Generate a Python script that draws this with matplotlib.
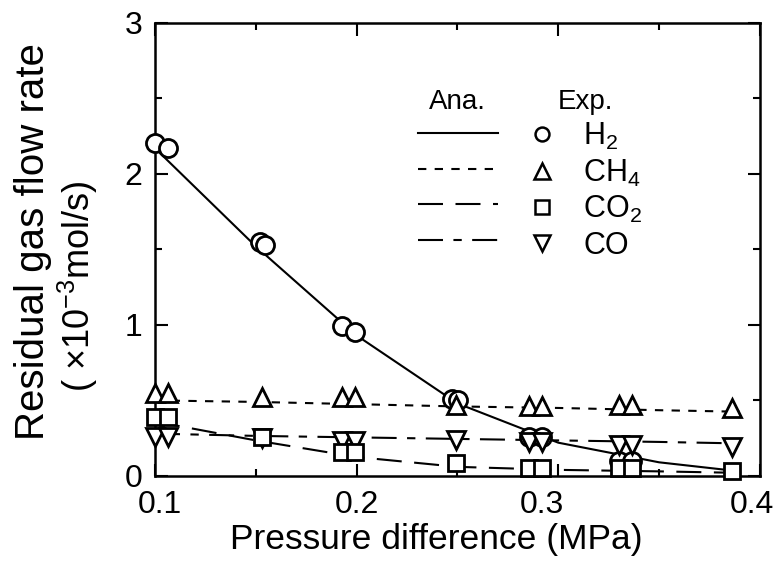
import matplotlib
matplotlib.use("Agg")
import matplotlib.pyplot as plt
from matplotlib.ticker import MultipleLocator
from matplotlib.lines import Line2D
from matplotlib.transforms import ScaledTranslation

plt.rcParams['font.family'] = ['Liberation Sans', 'DejaVu Sans']
plt.rcParams['mathtext.fontset'] = 'custom'
plt.rcParams['mathtext.rm'] = 'Liberation Sans'
plt.rcParams['mathtext.it'] = 'Liberation Sans:italic'
plt.rcParams['mathtext.bf'] = 'Liberation Sans:bold'

# ---- data ----
# analytical curves
ana_x = [0.1, 0.15, 0.2, 0.25, 0.3, 0.35, 0.39]
ana_h2 = [2.17, 1.52, 0.93, 0.48, 0.22, 0.09, 0.03]
ana_ch4 = [0.50, 0.49, 0.475, 0.46, 0.45, 0.435, 0.425]
ana_co2 = [0.36, 0.235, 0.125, 0.06, 0.04, 0.03, 0.02]
ana_co = [0.28, 0.265, 0.255, 0.245, 0.235, 0.225, 0.215]

# experiments
exp_x = [0.100, 0.1064, 0.153, 0.1926, 0.199, 0.2495, 0.2856, 0.292, 0.330, 0.3366, 0.386]
exp_ch4 = [0.55, 0.55, 0.52, 0.52, 0.52, 0.47, 0.46, 0.46, 0.47, 0.47, 0.45]
exp_co2 = [0.39, 0.39, 0.26, 0.16, 0.16, 0.085, 0.055, 0.055, 0.05, 0.05, 0.035]
exp_co = [0.26, 0.26, 0.25, 0.23, 0.23, 0.24, 0.225, 0.225, 0.205, 0.205, 0.19]
h2_x = [0.100, 0.1064, 0.152, 0.1545, 0.1926, 0.199, 0.2475, 0.2505, 0.2856, 0.292, 0.330, 0.3366]
exp_h2 = [2.205, 2.17, 1.55, 1.53, 0.99, 0.955, 0.51, 0.50, 0.26, 0.26, 0.10, 0.10]

x_ticks = [0.1, 0.2, 0.3, 0.4]
x_ticklabels = ['0.1', '0.2', '0.3', '0.4']
y_ticks = [0, 1, 2, 3]
y_ticklabels = ['0', '1', '2', '3']
gas_labels = ['H$_2$', 'CH$_4$', 'CO$_2$', 'CO']

fig = plt.figure(figsize=(7.77, 5.72), dpi=100)
ax = fig.add_axes([0.1995, 0.168, 0.7785, 0.792])

lw = 1.5
ls_h2 = '-'
ls_ch4 = (0, (4, 4))
ls_co2 = (0, (12, 6))
ls_co = (0, (12, 5, 4, 5))

ax.plot(ana_x, ana_ch4, color='k', lw=lw, ls=ls_ch4, zorder=2)
ax.plot(ana_x, ana_co2, color='k', lw=lw, ls=ls_co2, zorder=2)
ax.plot(ana_x, ana_co, color='k', lw=lw, ls=ls_co, zorder=2)
ax.plot(ana_x, ana_h2, color='k', lw=lw, ls=ls_h2, zorder=2)

mk = dict(color='none', mfc='white', mec='k', mew=2.0, zorder=3, clip_on=False)
ax.plot(h2_x, exp_h2, marker='o', ms=13, ls='none', **mk)
ax.plot(exp_x, exp_ch4, marker='^', ms=13, ls='none', **mk)
ax.plot(exp_x, exp_co, marker='v', ms=13, ls='none', **mk)
ax.plot(exp_x, exp_co2, marker='s', ms=12, ls='none', **mk)

ax.set_xlim(0.1, 0.4)
ax.set_ylim(0, 3)
ax.set_xticks(x_ticks)
ax.set_xticklabels(x_ticklabels)
ax.set_yticks(y_ticks)
ax.set_yticklabels(y_ticklabels)
ax.xaxis.set_minor_locator(MultipleLocator(0.05))
ax.yaxis.set_minor_locator(MultipleLocator(0.5))
ax.tick_params(which='both', direction='in', top=True, right=True, width=1.5, labelsize=23)
ax.tick_params(which='major', length=9)
ax.tick_params(axis='x', which='major', pad=10)
ax.tick_params(axis='y', which='major', pad=9)
ax.tick_params(which='minor', length=5)
for s in ax.spines.values():
    s.set_linewidth(1.8)

# nudge x tick labels like the reference
shifts = [5, 0, -16, -8]
for lab, dx in zip(ax.get_xticklabels(), shifts):
    lab.set_transform(lab.get_transform() + ScaledTranslation(dx / 100, 0, fig.dpi_scale_trans))

ax.set_xlabel('Pressure difference (MPa)', fontsize=25.5)
ax.xaxis.set_label_coords(0.465, -0.105)
fig.text(0.042, 0.5 + 0.078, 'Residual gas flow rate', rotation=90, fontsize=29,
         ha='center', va='center')
fig.text(0.100, 0.5 + 0.0, '( \u00d710$^{-3}$mol/s)', rotation=90, fontsize=26,
         ha='center', va='center')

# legends
line_handles = [Line2D([], [], color='k', lw=lw, ls=ls) for ls in (ls_h2, ls_ch4, ls_co2, ls_co)]
leg1 = ax.legend(line_handles, ['', '', '', ''], title='Ana.', loc='upper left',
                 bbox_to_anchor=(0.435, 0.853), frameon=False, handlelength=2.6,
                 handletextpad=0, labelspacing=0.18, fontsize=22, title_fontsize=20,
                 borderpad=0, borderaxespad=0)
ax.add_artist(leg1)
mk_handles = [Line2D([], [], color='none', marker=m, ms=s, mfc='white', mec='k', mew=1.8)
              for m, s in (('o', 10), ('^', 11), ('s', 10), ('v', 11))]
leg2 = ax.legend(mk_handles, gas_labels, title='Exp.', loc='upper left',
                 bbox_to_anchor=(0.617, 0.853), frameon=False, handlelength=0.9,
                 handletextpad=0.9, labelspacing=0.18, fontsize=22, title_fontsize=20,
                 borderpad=0, borderaxespad=0)

fig.savefig('out.png', dpi=100)
